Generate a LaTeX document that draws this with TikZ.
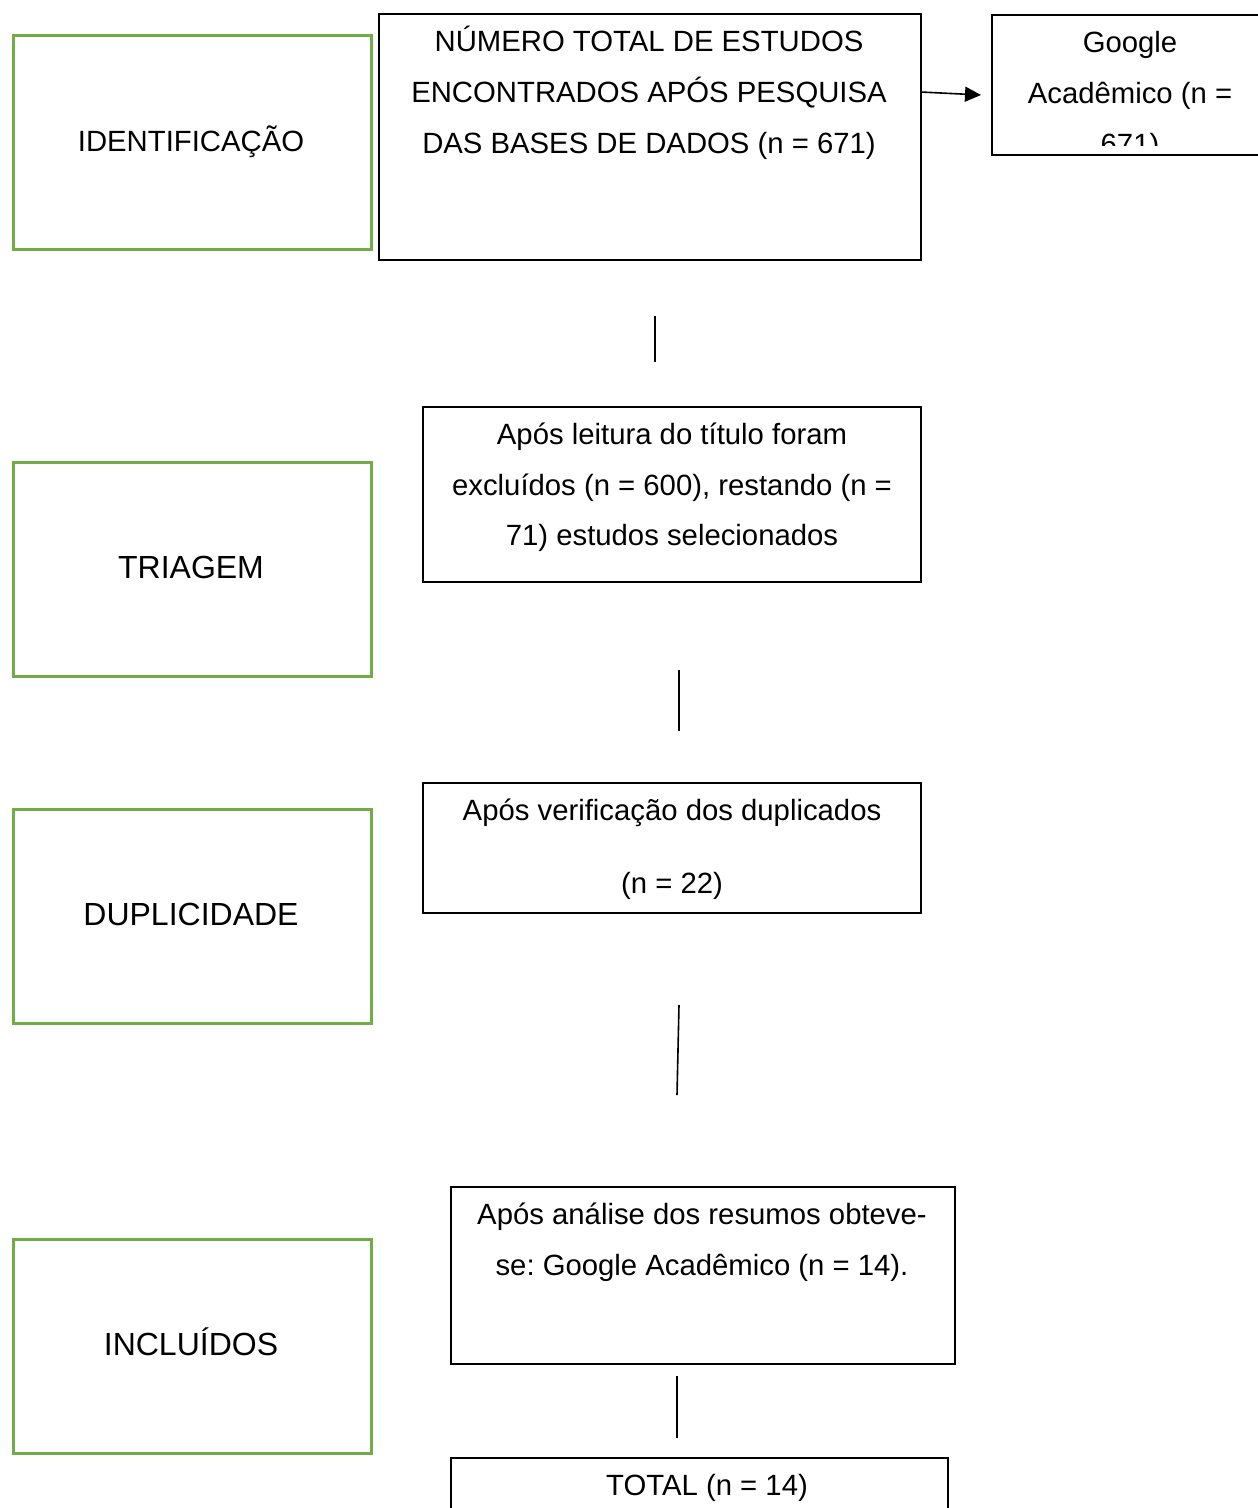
\documentclass[tikz,border=0pt]{standalone}
\usepackage{fontspec}
\setmainfont{Liberation Sans}
\usetikzlibrary{arrows.meta}
\definecolor{stagegreen}{HTML}{70AD47}
\frenchspacing
\begin{document}
\begin{tikzpicture}[x=1pt,y=-1pt,
  every node/.style={font=\fontsize{29.3}{35}\selectfont},
  stagebox/.style={draw=stagegreen,line width=2.6pt,inner sep=0pt,anchor=north west},
  flowbox/.style={draw=black,line width=1.8pt,inner sep=0pt,anchor=north west},
  txt/.style={anchor=base,inner sep=0pt},
  bigtxt/.style={anchor=base,inner sep=0pt,font=\fontsize{32}{38}\selectfont},
  conn/.style={draw=black,line width=1.6pt}]
\clip (0,0) rectangle (1258,1508);
\fill[white] (0,0) rectangle (1258,1508);
% stage boxes
\node[stagebox,minimum width=358pt,minimum height=214pt] (s1) at (12,34) {};
\node[stagebox,minimum width=358pt,minimum height=214pt] (s2) at (12,461) {};
\node[stagebox,minimum width=358pt,minimum height=214pt] (s3) at (12,808) {};
\node[stagebox,minimum width=358pt,minimum height=214pt] (s4) at (12,1238) {};
\node[txt] (l1) at (191,151.5) {IDENTIFICAÇÃO};
\node[bigtxt] (l2) at (191,578.5) {TRIAGEM};
\node[bigtxt] (l3) at (191,925.5) {DUPLICIDADE};
\node[bigtxt] (l4) at (191,1355.5) {INCLUÍDOS};
% flow boxes
\node[flowbox,minimum width=542pt,minimum height=246pt] (b1) at (378,13) {};
\node[txt] (b1a) at (649,51.5) {NÚMERO TOTAL DE ESTUDOS};
\node[txt] (b1b) at (649,102.5) {ENCONTRADOS APÓS PESQUISA};
\node[txt] (b1c) at (649,153.5) {DAS BASES DE DADOS (n = 671)};
\node[flowbox,minimum width=278pt,minimum height=140pt] (g) at (991,14) {};
\begin{scope}
\clip (991,14) rectangle (1258,145);
\node[txt] (ga) at (1130,52.5) {Google};
\node[txt] (gb) at (1130,103.5) {Acadêmico (n =};
\node[txt] (gc) at (1130,154.5) {671)};
\end{scope}
\node[flowbox,minimum width=498pt,minimum height=175pt] (b2) at (422,406) {};
\node[txt] (b2a) at (672,444.5) {Após leitura do título foram};
\node[txt] (b2b) at (672,495.5) {excluídos (n = 600), restando (n =};
\node[txt] (b2c) at (672,545.5) {71) estudos selecionados};
\node[flowbox,minimum width=498pt,minimum height=130pt] (b3) at (422,782) {};
\node[txt] (b3a) at (672,820.5) {Após verificação dos duplicados};
\node[txt] (b3b) at (672,893.5) {(n = 22)};
\node[flowbox,minimum width=504pt,minimum height=177pt] (b4) at (450,1186) {};
\node[txt] (b4a) at (702,1224.5) {Após análise dos resumos obteve-};
\node[txt] (b4b) at (702,1275.5) {se: Google Acadêmico (n = 14).};
\node[flowbox,minimum width=497pt,minimum height=80pt] (b5) at (450,1457) {};
\node[txt] (b5a) at (707,1495.5) {TOTAL (n = 14)};
% connectors
\coordinate (ar1) at (921,92);
\coordinate (ar2) at (981,95);
\draw[conn,-{Triangle[length=16pt,width=15pt]}] (ar1) -- (ar2);
\coordinate (c1a) at (655,316); \coordinate (c1b) at (655,362);
\draw[conn] (c1a) -- (c1b);
\coordinate (c2a) at (679,670); \coordinate (c2b) at (679,731);
\draw[conn] (c2a) -- (c2b);
\coordinate (c3a) at (679,1005); \coordinate (c3b) at (677,1095);
\draw[conn] (c3a) -- (c3b);
\coordinate (c4a) at (677,1376); \coordinate (c4b) at (677,1438);
\draw[conn] (c4a) -- (c4b);
\end{tikzpicture}
\end{document}
